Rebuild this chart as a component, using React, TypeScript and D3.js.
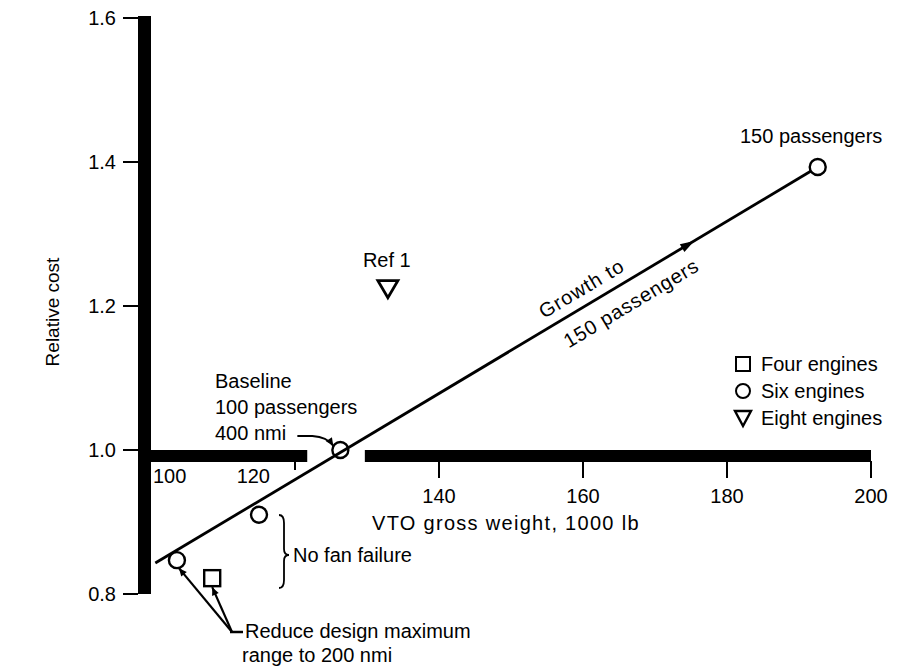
import React, { useEffect } from "react";
import * as d3 from "d3";

// chart values
const xTicks = [100, 120, 140, 160, 180, 200];
const yTicks = [0.8, 1.0, 1.2, 1.4, 1.6];
const yTickLabels = ["0.8", "1.0", "1.2", "1.4", "1.6"];
const axisBreak = [121.7, 129.7]; // gap in the 1.0 bar

const sixEngines = [
  { w: 192.6, c: 1.393 },
  { w: 126.3, c: 1.0 },
  { w: 115.0, c: 0.91 },
  { w: 103.6, c: 0.847 },
];
const fourEngines = [{ w: 108.5, c: 0.822 }];
const eightEngines = [{ w: 132.9, c: 1.224 }];
const growthLine = [
  { w: 100.6, c: 0.843 },
  { w: 192.6, c: 1.393 },
];
const legendItems = ["Four engines", "Six engines", "Eight engines"];

const W = 900;
const H = 669;
const FONT = "'Liberation Sans', Arial, Helvetica, sans-serif";

const x = d3.scaleLinear().domain([100, 200]).range([151, 871]);
const y = d3.scaleLinear().domain([0.8, 1.6]).range([594, 18]);

const R = 8; // circle radius
const triPath = (cx: number, cy: number, s = 10) =>
  `M${cx - s},${cy - 8} L${cx + s},${cy - 8} L${cx},${cy + 9} Z`;

const App: React.FC = () => {
  useEffect(() => {
    document.body.style.margin = "0";
  }, []);

  const barT = 13;
  const x0 = x(100);
  const y0 = y(1.0);

  const line = d3
    .line<{ w: number; c: number }>()
    .x((d) => x(d.w))
    .y((d) => y(d.c));

  // direction of the growth line in pixels
  const p1 = { x: x(growthLine[0].w), y: y(growthLine[0].c) };
  const p2 = { x: x(growthLine[1].w), y: y(growthLine[1].c) };
  const ang = (Math.atan2(p2.y - p1.y, p2.x - p1.x) * 180) / Math.PI;
  const along = (w: number) => ({
    x: x(w),
    y: p1.y + ((x(w) - p1.x) * (p2.y - p1.y)) / (p2.x - p1.x),
  });
  const arrowPt = along(175.2);
  const textPt = along(155.3);

  const base = sixEngines[1];
  const bx = x(base.w);
  const by = y(base.c);
  const lowCircle = sixEngines[3];
  const sq = fourEngines[0];

  const legendX = 743;
  const legendY = [364, 391, 418];

  return (
    <svg
      width={W}
      height={H}
      style={{ display: "block", background: "#fff" }}
      fontFamily={FONT}
      fontSize={20}
    >
      <defs>
        <marker
          id="ah"
          viewBox="0 0 10 10"
          refX={10}
          refY={5}
          markerWidth={11}
          markerHeight={8}
          markerUnits="userSpaceOnUse"
          orient="auto"
        >
          <path d="M0,0.5 L10,5 L0,9.5 Z" fill="#000" />
        </marker>
      </defs>

      {/* vertical axis bar */}
      <rect x={x0 - barT} y={y(1.6) - 2} width={barT} height={y(0.8) - y(1.6) + 2} fill="#000" />
      {yTicks.map((t, i) => (
        <g key={t}>
          <line x1={x0 - barT - 15} x2={x0 - barT} y1={y(t)} y2={y(t)} stroke="#000" strokeWidth={2} />
          <text x={x0 - barT - 22} y={y(t) + 7} textAnchor="end">
            {yTickLabels[i]}
          </text>
        </g>
      ))}

      {/* horizontal 1.0 bar, broken */}
      <rect x={x0 - barT} y={y0} width={x(axisBreak[0]) - x0 + barT} height={12} fill="#000" />
      <rect x={x(axisBreak[1])} y={y0} width={x(200) - x(axisBreak[1])} height={12} fill="#000" />
      {xTicks
        .filter((t) => t > 100)
        .map((t) => (
          <line
            key={t}
            x1={x(t)}
            x2={x(t)}
            y1={y0 + 11}
            y2={y0 + (t === 120 ? 20 : 28)}
            stroke="#000"
            strokeWidth={2}
          />
        ))}
      {xTicks.map((t) =>
        t === 100 ? (
          <text key={t} x={x(t) + 2} y={y0 + 33} textAnchor="start">
            {t}
          </text>
        ) : t === 120 ? (
          <text key={t} x={x(t) - 25} y={y0 + 33} textAnchor="end">
            {t}
          </text>
        ) : (
          <text key={t} x={x(t)} y={y0 + 53} textAnchor="middle">
            {t}
          </text>
        )
      )}
      <text x={372} y={y0 + 80} textAnchor="start" letterSpacing={1.3}>
        VTO gross weight, 1000 lb
      </text>

      <text transform={`translate(59,312) rotate(-90)`} textAnchor="middle" fontSize={19}>
        Relative cost
      </text>

      {/* growth line */}
      <path d={line(growthLine) || ""} fill="none" stroke="#000" strokeWidth={2.8} />
      <path
        d="M-12,-4.5 L2,0 L-12,4.5 Z"
        transform={`translate(${arrowPt.x},${arrowPt.y}) rotate(${ang})`}
        fill="#000"
      />
      <g transform={`translate(${textPt.x},${textPt.y}) rotate(${ang})`}>
        <text x={0} y={-10} letterSpacing={1}>
          Growth to
        </text>
        <text x={6} y={28} letterSpacing={0.8}>
          150 passengers
        </text>
      </g>

      {/* markers */}
      {sixEngines.map((d, i) => (
        <circle
          key={i}
          cx={x(d.w)}
          cy={y(d.c)}
          r={R}
          fill={i === 1 ? "none" : "#fff"}
          stroke="#000"
          strokeWidth={2.4}
        />
      ))}
      {fourEngines.map((d, i) => (
        <rect key={i} x={x(d.w) - 8} y={y(d.c) - 8} width={16} height={16} fill="#fff" stroke="#000" strokeWidth={2.4} />
      ))}
      {eightEngines.map((d, i) => (
        <path key={i} d={triPath(x(d.w), y(d.c))} fill="#fff" stroke="#000" strokeWidth={2.8} strokeLinejoin="miter" />
      ))}

      {/* annotations */}
      <text x={740} y={143}>150 passengers</text>
      <text x={x(eightEngines[0].w) - 25} y={y(eightEngines[0].c) - 22}>Ref 1</text>

      <text x={215} y={388}>Baseline</text>
      <text x={215} y={414}>100 passengers</text>
      <text x={215} y={440}>400 nmi</text>
      <path
        d={`M${bx - 43},${by - 14} L${bx - 28},${by - 14} Q${bx - 13},${by - 13} ${bx - 7},${by - 4}`}
        fill="none"
        stroke="#000"
        strokeWidth={2}
        markerEnd="url(#ah)"
      />

      <path
        d="M279,515 Q284,515 284,523 L284,549 Q284,555 289,555 Q284,555 284,561 L284,580 Q284,588 279,588"
        fill="none"
        stroke="#000"
        strokeWidth={1.8}
      />
      <text x={293} y={562}>No fan failure</text>

      <line x1={230} x2={243} y1={632} y2={632} stroke="#000" strokeWidth={2.5} />
      <line
        x1={232}
        y1={632}
        x2={x(lowCircle.w) + 2}
        y2={y(lowCircle.c) + R}
        stroke="#000"
        strokeWidth={2.2}
        markerEnd="url(#ah)"
      />
      <line
        x1={232}
        y1={632}
        x2={x(sq.w)}
        y2={y(sq.c) + 9}
        stroke="#000"
        strokeWidth={2.2}
        markerEnd="url(#ah)"
      />
      <text x={245} y={638}>Reduce design maximum</text>
      <text x={242} y={662}>range to 200 nmi</text>

      {/* legend */}
      <rect x={legendX - 7} y={legendY[0] - 7} width={14} height={14} fill="#fff" stroke="#000" strokeWidth={2} />
      <circle cx={legendX} cy={legendY[1]} r={7} fill="#fff" stroke="#000" strokeWidth={2} />
      <path
        d={`M${legendX - 8},${legendY[2] - 7} L${legendX + 8},${legendY[2] - 7} L${legendX},${legendY[2] + 8} Z`}
        fill="#fff"
        stroke="#000"
        strokeWidth={2.4}
      />
      {legendItems.map((t, i) => (
        <text key={t} x={legendX + 18} y={legendY[i] + 7}>
          {t}
        </text>
      ))}
    </svg>
  );
};

export default App;
